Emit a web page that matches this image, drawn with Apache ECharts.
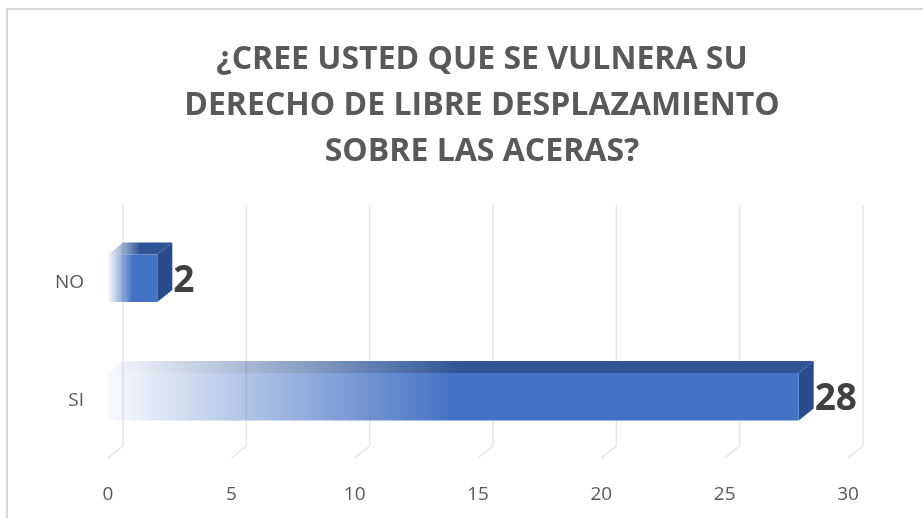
<!DOCTYPE html>
<html>
<head>
<meta charset="utf-8">
<script src="https://cdn.jsdelivr.net/npm/echarts@6/dist/echarts.min.js"></script>
<style>
  html, body { margin: 0; padding: 0; background: #fff; }
  #chart { width: 923px; height: 518px; }
</style>
</head>
<body>
<div id="chart"></div>
<script>
// datos
var categories = ['SI', 'NO'];
var values = [28, 2];
var ticks = [0, 5, 10, 15, 20, 25, 30];
var titleText = '¿CREE USTED QUE SE VULNERA SU\nDERECHO DE LIBRE DESPLAZAMIENTO\nSOBRE LAS ACERAS?';

var chart = echarts.init(document.getElementById('chart'));

var DX = 15, DY = -12; // profundidad del efecto 3D

function renderGrid(params, api) {
  var cs = params.coordSys;
  var x = api.coord([api.value(0), 0])[0];
  var top = cs.y - 18;
  var backBottom = cs.y + cs.height - 14;
  var frontBottom = cs.y + cs.height - 2;
  return {
    type: 'polyline',
    shape: { points: [[x + DX, top], [x + DX, backBottom], [x, frontBottom]] },
    style: { stroke: '#e6e6e6', lineWidth: 1.5, fill: null }
  };
}

function renderBar(params, api) {
  var idx = api.value(1);
  var v = api.value(0);
  var p0 = api.coord([0, idx]);
  var p1 = api.coord([v, idx]);
  var h = api.size([0, 1])[1] * 0.4;
  var x0 = p0[0], x1 = p1[0];
  var yT = p0[1] - h / 2 - 4, yB = yT + h;
  var front = new echarts.graphic.LinearGradient(0, 0, 1, 0, [
    { offset: 0, color: 'rgba(68,114,196,0.03)' },
    { offset: 0.5, color: '#4472C4' },
    { offset: 1, color: '#4472C4' }
  ]);
  var topFill = new echarts.graphic.LinearGradient(0, 0, 1, 0, [
    { offset: 0, color: 'rgba(47,85,151,0.03)' },
    { offset: 0.5, color: '#2F5597' },
    { offset: 1, color: '#2F5597' }
  ]);
  return {
    type: 'group',
    children: [
      {
        type: 'polygon',
        shape: { points: [[x0, yT], [x0 + DX, yT + DY], [x1 + DX, yT + DY], [x1, yT]] },
        style: { fill: topFill }
      },
      {
        type: 'polygon',
        shape: { points: [[x1, yT], [x1 + DX, yT + DY], [x1 + DX, yB + DY], [x1, yB]] },
        style: { fill: '#2B4C8C' }
      },
      {
        type: 'rect',
        shape: { x: x0, y: yT, width: x1 - x0, height: h },
        style: { fill: front }
      },
      {
        type: 'text',
        x: x1 + DX + 1,
        y: (yT + yB) / 2 + 3,
        style: {
          text: String(v),
          fill: '#404040',
          font: 'bold 37px "Open Sans"',
          verticalAlign: 'middle',
          align: 'left'
        }
      }
    ]
  };
}

var option = {
  backgroundColor: '#fff',
  animation: false,
  graphic: [{
    type: 'rect',
    shape: { x: 7, y: 9, width: 1000, height: 1000 },
    style: { fill: null, stroke: '#d9d9d9', lineWidth: 2 },
    silent: true
  }, {
    type: 'text',
    x: 482,
    y: 106,
    style: {
      text: titleText,
      fill: '#595959',
      font: 'bold 32px "Open Sans"',
      lineHeight: 46,
      align: 'center',
      verticalAlign: 'middle'
    }
  }],
  grid: {
    left: 108,
    right: 75,
    top: 223,
    bottom: 58
  },
  xAxis: {
    type: 'value',
    min: 0,
    max: 30,
    interval: 5,
    axisLine: { show: false },
    axisTick: { show: false },
    splitLine: { show: false },
    axisLabel: {
      margin: 25,
      fontFamily: 'Open Sans',
      fontSize: 19,
      color: '#595959'
    }
  },
  yAxis: {
    type: 'category',
    data: categories,
    axisLine: { show: false },
    axisTick: { show: false },
    axisLabel: {
      margin: 24,
      fontFamily: 'Open Sans',
      fontSize: 19,
      color: '#595959'
    }
  },
  series: [
    {
      type: 'custom',
      renderItem: renderGrid,
      data: ticks.map(function (t) { return [t, 0]; }),
      encode: { x: 0, y: 1 },
      silent: true,
      z: 1
    },
    {
      type: 'custom',
      renderItem: renderBar,
      data: values.map(function (v, i) { return [v, i]; }),
      encode: { x: 0, y: 1 },
      z: 2
    }
  ]
};

chart.setOption(option);
</script>
</body>
</html>
